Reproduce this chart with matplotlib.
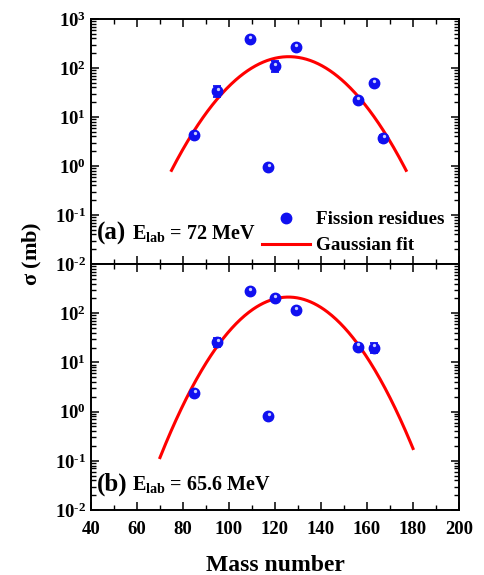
import matplotlib
matplotlib.use("Agg")
import matplotlib.pyplot as plt
import matplotlib.transforms as mtransforms
import numpy as np
from matplotlib.ticker import FixedLocator, MultipleLocator, NullFormatter, FuncFormatter

plt.rcParams['font.family'] = 'Liberation Serif'
plt.rcParams['font.weight'] = 'bold'
plt.rcParams['mathtext.fontset'] = 'custom'
plt.rcParams['mathtext.rm'] = 'Liberation Serif:bold'
plt.rcParams['mathtext.bf'] = 'Liberation Serif:bold'
plt.rcParams['mathtext.it'] = 'Liberation Serif:bold'

# (a) E_lab = 72 MeV
mass_a = [85, 95, 109, 117, 120, 129, 156, 163, 167]
sigma_a = [4.3, 34, 385, 0.95, 110, 265, 22, 49, 3.7]
err_a = [0.5, 9, 25, 0.08, 27, 25, 2.5, 5, 0.6]
fit_a = dict(amp=170, xc=126.0, width=15.6, xmin=75, xmax=177)

# (b) E_lab = 65.6 MeV
mass_b = [85, 95, 109, 117, 120, 129, 156, 163]
sigma_b = [2.37, 25.6, 281, 0.82, 202, 115, 21, 20]
err_b = [0.3, 5, 25, 0.08, 25, 12, 2.5, 4.5]
fit_b = dict(amp=212, xc=125.8, width=14.4, xmin=70, xmax=180)

BLUE = '#1010f0'

decades = [10.0 ** e for e in range(-2, 4)]
minor_y = [m * d for d in decades[:-1] for m in range(2, 10)]


def gaussian(x, p):
    return p['amp'] * np.exp(-(x - p['xc']) ** 2 / (2 * p['width'] ** 2))


def decade_label(v, pos):
    e = int(round(np.log10(v)))
    if e < 0:
        return r'$\mathregular{10^{\text{-}%d}}$' % (-e)
    return r'$\mathregular{10^{%d}}$' % e


def draw_panel(ax, mass, sigma, err, fit, tag, energy, tag_y, yticks):
    ax.errorbar(mass, sigma, yerr=err, fmt='none', ecolor=BLUE,
                elinewidth=1.3, capsize=3, capthick=1.3, zorder=3)
    pts, = ax.plot(mass, sigma, 'o', color=BLUE, ms=7.5, mec=BLUE,
                   zorder=4, label='Fission residues')
    # small highlight to give the markers a glossy look
    shine = mtransforms.offset_copy(ax.transData, fig=ax.figure,
                                    x=0.3, y=1.6, units='points')
    ax.plot(mass, sigma, 'o', color='#c8ceff', ms=2.4, mec='none',
            transform=shine, zorder=5)

    xs = np.linspace(fit['xmin'], fit['xmax'], 300)
    fl, = ax.plot(xs, gaussian(xs, fit), color='#ff0000', lw=2.2,
                  zorder=2, label='Gaussian fit')

    ax.set_yscale('log')
    ax.set_xlim(40, 200)
    ax.set_ylim(1e-2, 1e3)
    ax.xaxis.set_major_locator(MultipleLocator(20))
    ax.xaxis.set_minor_locator(MultipleLocator(10))
    ax.yaxis.set_major_locator(FixedLocator(yticks))
    ax.yaxis.set_minor_locator(FixedLocator(minor_y))
    ax.yaxis.set_major_formatter(FuncFormatter(decade_label))
    ax.yaxis.set_minor_formatter(NullFormatter())
    ax.tick_params(which='both', direction='in', top=True, right=True,
                   labelsize=13.5, width=1.1)
    ax.tick_params(which='major', length=6)
    ax.tick_params(which='minor', length=3.5, width=1.0)
    ax.tick_params(axis='x', which='major', pad=8)
    for lab in ax.get_xticklabels() + ax.get_yticklabels():
        lab.set_fontweight('bold')
    for sp in ax.spines.values():
        sp.set_linewidth(1.4)

    ax.text(0.015, tag_y, tag, transform=ax.transAxes, fontsize=18,
            fontweight='bold', va='center', ha='left')
    ax.text(0.112, tag_y, r'E$_{\mathregular{lab}}$ = ' + energy,
            transform=ax.transAxes, fontsize=14.5, fontweight='bold',
            va='center', ha='left')
    return pts, fl


fig = plt.figure(figsize=(4.85, 5.75), dpi=100)
ax_a = fig.add_axes([0.1876, 0.541, 0.7588, 0.426])
ax_b = fig.add_axes([0.1876, 0.113, 0.7588, 0.428], sharex=ax_a)

pts, fl = draw_panel(ax_a, mass_a, sigma_a, err_a, fit_a, '(a)', '72 MeV',
                     0.125, decades)
draw_panel(ax_b, mass_b, sigma_b, err_b, fit_b, '(b)', '65.6 MeV',
           0.105, decades[:-1])

ax_a.tick_params(labelbottom=False)

leg = ax_a.legend(handles=[pts, fl], loc='lower right', frameon=False,
                  prop={'weight': 'bold', 'size': 13.8},
                  handlelength=2.5, handletextpad=0.3, labelspacing=0.45,
                  borderaxespad=0.2, bbox_to_anchor=(0.991, -0.008))

ax_b.set_xlabel('Mass number', fontsize=17, fontweight='bold', labelpad=12)
fig.text(0.066, 0.558, r'$\mathregular{\sigma}$ (mb)', rotation=90, fontsize=16,
         fontweight='bold', ha='center', va='center')

fig.savefig('out.png', dpi=100)
